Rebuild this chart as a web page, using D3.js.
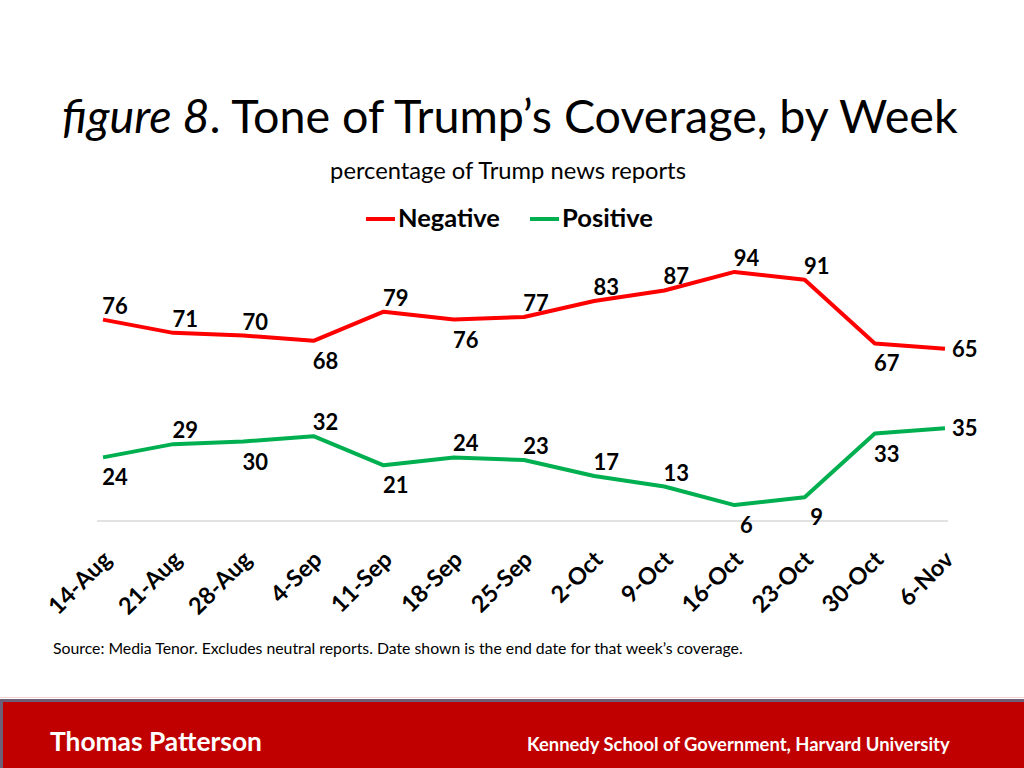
<!DOCTYPE html>
<html><head><meta charset="utf-8">
<script src="https://cdn.jsdelivr.net/npm/d3@7"></script>
<style>body{margin:0;background:#fff}svg{display:block}</style>
</head><body>
<script>
const weeks = ["14-Aug","21-Aug","28-Aug","4-Sep","11-Sep","18-Sep","25-Sep","2-Oct","9-Oct","16-Oct","23-Oct","30-Oct","6-Nov"];
const negative = [76,71,70,68,79,76,77,83,87,94,91,67,65];
const positive = [24,29,30,32,21,24,23,17,13,6,9,33,35];
const negativePlace = ["a","a","a","b","a","b","a","a","a","a","a","b","r"];
const positivePlace = ["b","a","b","a","b","a","a","a","a","b","b","b","r"];
const seriesNames = ["Negative","Positive"];
const seriesColors = ["#FF0000","#00B050"];

const W = 1024, H = 768;
const FONT = "Lato, 'Open Sans', sans-serif";
const svg = d3.select("body").append("svg").attr("width", W).attr("height", H);

function fit(sel, target) {
  const node = sel.node();
  const w = node.getComputedTextLength();
  const fs = parseFloat(sel.attr("font-size"));
  sel.attr("font-size", fs * target / w);
  return sel;
}

// Title
const title = svg.append("text").attr("x", 62).attr("y", 133)
  .attr("font-family", FONT).attr("font-size", 44).attr("fill", "#000");
title.append("tspan").attr("font-style", "italic").text("figure 8");
title.append("tspan").text(". Tone of Trump\u2019s Coverage, by Week");
fit(title, 896);

const sub = svg.append("text").attr("x", 508).attr("y", 179).attr("text-anchor", "middle")
  .attr("font-family", FONT).attr("font-size", 21).attr("fill", "#000")
  .text("percentage of Trump news reports");
fit(sub, 356);

// Legend
const legendX = [366, 530];
seriesNames.forEach((n, i) => {
  svg.append("line").attr("x1", legendX[i]).attr("x2", legendX[i] + 29)
    .attr("y1", 219).attr("y2", 219).attr("stroke", seriesColors[i]).attr("stroke-width", 4);
  const t = svg.append("text").attr("x", legendX[i] + 32).attr("y", 227)
    .attr("font-family", FONT).attr("font-weight", "bold").attr("font-size", 24).text(n);
  fit(t, i === 0 ? 102 : 91);
});

// Scales
const x = d3.scalePoint().domain(weeks).range([103, 945]);
const y = d3.scaleLinear().domain([0, 100]).range([521, 256]);

// Baseline axis
const xAxis = d3.axisBottom(x).tickSize(0).tickFormat("");
const axG = svg.append("g").attr("transform", `translate(0,${y(0)})`).call(xAxis);
axG.select(".domain").attr("d", "M97,0H948").attr("stroke", "#D9D9D9").attr("stroke-width", 1.5);

// Tick labels
svg.append("g").selectAll("text").data(weeks).join("text")
  .attr("transform", d => `translate(${x(d) + 10},${561}) rotate(-45)`)
  .attr("text-anchor", "end")
  .attr("font-family", FONT).attr("font-weight", "bold").attr("font-size", 23.5)
  .attr("fill", "#000").text(d => d);

// Lines
const line = d3.line().x((d, i) => x(weeks[i])).y(d => y(d));
[negative, positive].forEach((vals, k) => {
  svg.append("path").datum(vals).attr("d", line).attr("fill", "none")
    .attr("stroke", seriesColors[k]).attr("stroke-width", 4).attr("stroke-linejoin", "round");
});

// Data labels
function labels(vals, place) {
  svg.append("g").selectAll("text").data(vals).join("text")
    .attr("x", (d, i) => place[i] === "r" ? x(weeks[i]) + 7 : x(weeks[i]) + 12)
    .attr("y", (d, i) => place[i] === "a" ? y(d) - 6 : place[i] === "b" ? y(d) + 28 : y(d) + 8)
    .attr("text-anchor", (d, i) => place[i] === "r" ? "start" : "middle")
    .attr("font-family", FONT).attr("font-weight", "bold").attr("font-size", 22)
    .attr("fill", "#000").text(d => d);
}
labels(negative, negativePlace);
labels(positive, positivePlace);

// Source
const src = svg.append("text").attr("x", 53).attr("y", 654)
  .attr("font-family", FONT).attr("font-size", 15).attr("fill", "#000")
  .text("Source: Media Tenor. Excludes neutral reports. Date shown is the end date for that week\u2019s coverage.");
fit(src, 690);

// Footer
svg.append("rect").attr("x", 0).attr("y", 697).attr("width", W).attr("height", 1).attr("fill", "#F4D0D0");
svg.append("rect").attr("x", 0).attr("y", 699).attr("width", W).attr("height", H - 699).attr("fill", "#C00000");
svg.append("rect").attr("x", 0).attr("y", 699).attr("width", W).attr("height", 3).attr("fill", "#6E5F78");
svg.append("rect").attr("x", 0).attr("y", 699).attr("width", 3).attr("height", H - 699).attr("fill", "#6E5F78");
const f1 = svg.append("text").attr("x", 50).attr("y", 751)
  .attr("font-family", FONT).attr("font-weight", "bold").attr("font-size", 26).attr("fill", "#fff")
  .text("Thomas Patterson");
fit(f1, 212);
const f2 = svg.append("text").attr("x", 527).attr("y", 751)
  .attr("font-family", FONT).attr("font-weight", "bold").attr("font-size", 19).attr("fill", "#fff")
  .text("Kennedy School of Government, Harvard University");
fit(f2, 423);
</script>
</body></html>
